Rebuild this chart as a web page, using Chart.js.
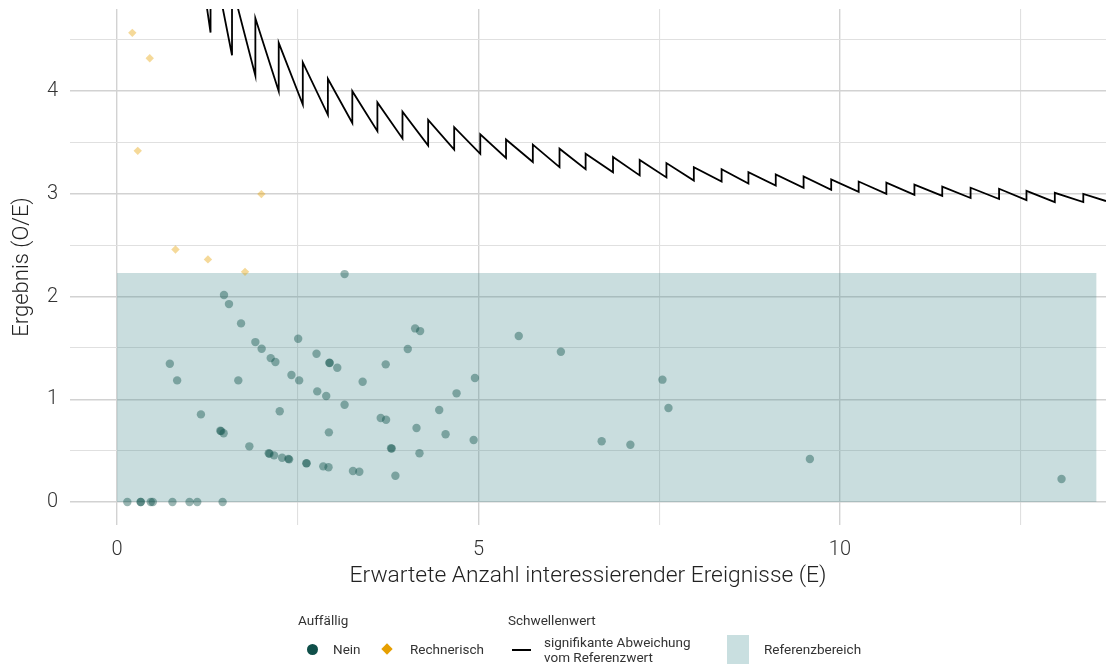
<!DOCTYPE html>
<html lang="de">
<head>
<meta charset="utf-8">
<title>Ergebnis (O/E)</title>
<script src="https://cdn.jsdelivr.net/npm/chart.js@4.4.1/dist/chart.umd.min.js"></script>
<style>
  html, body { margin: 0; padding: 0; background: #fff; }
  #wrap { position: relative; width: 1106px; height: 666px; overflow: hidden; }
  #chart { position: absolute; left: 0; top: 0; }
  .lg { position: absolute; font-family: Roboto, "DejaVu Sans", sans-serif; font-size: 13.5px; color: #333; line-height: 15px; white-space: nowrap; }
  .dot { position: absolute; width: 11px; height: 11px; border-radius: 50%; background: #0f4f49; }
  .dia { position: absolute; width: 8px; height: 8px; background: #e69f00; transform: rotate(45deg); }
  .ln { position: absolute; width: 19px; height: 2px; background: #000; }
  .box { position: absolute; width: 22px; height: 29px; background: #c9dfe0; }
</style>
</head>
<body>
<div id="wrap">
  <canvas id="chart" width="1106" height="666"></canvas>

  <div class="lg" style="left:298px; top:613px;">Auffällig</div>
  <div class="dot" style="left:307px; top:644px;"></div>
  <div class="lg" style="left:333px; top:642px;">Nein</div>
  <div class="dia" style="left:383px; top:645px;"></div>
  <div class="lg" style="left:410px; top:642px;">Rechnerisch</div>

  <div class="lg" style="left:508px; top:613px;">Schwellenwert</div>
  <div class="ln" style="left:512px; top:649px;"></div>
  <div class="lg" style="left:544px; top:635px;">signifikante Abweichung<br>vom Referenzwert</div>

  <div class="box" style="left:727px; top:635px;"></div>
  <div class="lg" style="left:764px; top:642px;">Referenzbereich</div>
</div>
<script>
// Achsen
const xTicks = [0, 2.5, 5, 7.5, 10, 12.5];
const yTicks = [0, 0.5, 1, 1.5, 2, 2.5, 3, 3.5, 4, 4.5];

// Referenzbereich
const refLow = 0;
const refHigh = 2.23;
const refEnd = 13.55;

// Schwellenwert: Sprungstellen mit Wert vor und nach dem Sprung
const jumpE = [1.294, 1.591, 1.914, 2.237, 2.570, 2.917, 3.255, 3.602, 3.949, 4.304,
               4.664, 5.025, 5.381, 5.752, 6.121, 6.482, 6.861, 7.230, 7.600, 7.979,
               8.363, 8.734, 9.112, 9.497, 9.879, 10.259, 10.642, 11.030, 11.415, 11.807,
               12.201, 12.580, 12.972, 13.366];
const jumpLow = [4.57, 4.35, 4.15, 4.00, 3.87, 3.77, 3.69, 3.61, 3.54, 3.47,
                 3.43, 3.39, 3.35, 3.31, 3.26, 3.24, 3.21, 3.18, 3.16, 3.13,
                 3.12, 3.10, 3.08, 3.06, 3.04, 3.02, 3.00, 2.99, 2.98, 2.96,
                 2.95, 2.94, 2.92, 2.92];
const jumpHigh = [5.41, 5.03, 4.71, 4.47, 4.28, 4.12, 4.00, 3.89, 3.80, 3.72,
                  3.65, 3.58, 3.53, 3.48, 3.44, 3.39, 3.36, 3.33, 3.30, 3.26,
                  3.24, 3.21, 3.19, 3.17, 3.14, 3.12, 3.11, 3.09, 3.07, 3.06,
                  3.05, 3.03, 3.01, 3.00];
const lineStart = { x: 1.0, y: 6.0 };
const lineEnd = { x: 13.68, y: 2.93 };

// Einrichtungen, Auffällig: Nein
const neinE = [1.480, 1.549, 1.716, 1.914, 2.001, 2.126, 2.191, 2.506, 2.760, 2.940,
               2.940, 3.047, 2.413, 2.520, 2.770, 2.894, 3.148, 3.398, 3.717, 4.022,
               4.124, 4.193, 4.697, 4.951, 4.457, 4.545, 4.933, 3.648, 3.722, 4.143,
               2.931, 4.184, 3.791, 3.800, 3.851, 0.731, 0.832, 1.678, 1.161, 2.251,
               1.429, 1.440, 1.475, 1.831, 2.099, 2.110, 2.173, 2.284, 2.381, 2.370,
               2.621, 2.621, 2.853, 2.926, 3.264, 3.352, 5.557, 6.140, 7.545, 7.628,
               6.704, 7.101, 9.584, 13.065, 3.148,
               0.143, 0.328, 0.328, 0.467, 0.495, 0.767, 1.003, 1.110, 1.461];
const neinOE = [2.015, 1.927, 1.739, 1.557, 1.492, 1.401, 1.363, 1.590, 1.443, 1.353,
                1.356, 1.307, 1.236, 1.184, 1.077, 1.032, 0.947, 1.171, 1.340, 1.489,
                1.690, 1.664, 1.058, 1.207, 0.895, 0.659, 0.603, 0.818, 0.801, 0.720,
                0.678, 0.474, 0.523, 0.520, 0.256, 1.346, 1.184, 1.184, 0.853, 0.883,
                0.694, 0.690, 0.669, 0.542, 0.474, 0.470, 0.454, 0.431, 0.415, 0.420,
                0.376, 0.378, 0.347, 0.338, 0.302, 0.295, 1.616, 1.463, 1.191, 0.915,
                0.591, 0.558, 0.418, 0.224, 2.219,
                0, 0, 0, 0, 0, 0, 0, 0, 0];

// Einrichtungen, Auffällig: Rechnerisch
const rechnE = [0.212, 0.453, 0.287, 1.997, 0.809, 1.258, 1.771];
const rechnOE = [4.568, 4.321, 3.419, 2.998, 2.459, 2.362, 2.241];

const FONT = 'Roboto, "DejaVu Sans", sans-serif';

function toPoints(xs, ys) {
    return xs.map((x, i) => ({ x: x, y: ys[i] }));
}

function thresholdPoints() {
    const pts = [lineStart];
    jumpE.forEach((e, i) => {
        pts.push({ x: e, y: jumpLow[i] });
        pts.push({ x: e, y: jumpHigh[i] });
    });
    pts.push(lineEnd);
    return pts;
}

// keine Randabstände durch Beschriftungen, Plotfläche bleibt fest
function noLabelPadding(scale) {
    scale.paddingTop = 0;
    scale.paddingBottom = 0;
    scale.paddingLeft = 0;
    scale.paddingRight = 0;
}

const majorGrid = '#d2d2d2';
const minorGrid = '#e0e0e0';

new Chart(document.getElementById('chart'), {
    type: 'scatter',
    data: {
        datasets: [
            {
                label: 'Nein',
                data: toPoints(neinE, neinOE),
                pointStyle: 'circle',
                pointRadius: 4.2,
                pointBackgroundColor: 'rgba(15, 80, 73, 0.42)',
                pointBorderWidth: 0,
                order: 1
            },
            {
                label: 'Rechnerisch',
                data: toPoints(rechnE, rechnOE),
                pointStyle: 'rectRot',
                pointRadius: 4.2,
                pointBackgroundColor: 'rgba(230, 159, 0, 0.4)',
                pointBorderWidth: 0,
                order: 2
            },
            {
                type: 'line',
                label: 'signifikante Abweichung vom Referenzwert',
                data: thresholdPoints(),
                borderColor: '#000',
                borderWidth: 1.8,
                pointRadius: 0,
                fill: false,
                tension: 0,
                order: 3
            },
            {
                type: 'line',
                label: 'Referenzbereich',
                data: [{ x: 0, y: refHigh }, { x: refEnd, y: refHigh }],
                borderWidth: 0,
                borderColor: 'rgba(0,0,0,0)',
                backgroundColor: 'rgba(70, 138, 143, 0.29)',
                pointRadius: 0,
                fill: { value: refLow },
                order: 4
            }
        ]
    },
    options: {
        responsive: false,
        animation: false,
        layout: { autoPadding: false, padding: { top: 9, right: 0, bottom: 72, left: 0 } },
        plugins: {
            legend: { display: false },
            tooltip: { enabled: false }
        },
        scales: {
            x: {
                type: 'linear',
                min: -0.65,
                max: 13.68,
                afterBuildTicks: (scale) => { scale.ticks = xTicks.map(v => ({ value: v })); },
                afterFit: (scale) => { scale.height = 69; noLabelPadding(scale); },
                border: { display: false },
                grid: {
                    drawTicks: false,
                    color: (ctx) => (ctx.tick && ctx.tick.value % 5 === 0 ? majorGrid : minorGrid),
                    lineWidth: (ctx) => (ctx.tick && ctx.tick.value % 5 === 0 ? 1.4 : 1.1)
                },
                ticks: {
                    autoSkip: false,
                    maxRotation: 0,
                    padding: 13,
                    color: '#333',
                    font: { family: FONT, size: 20, weight: 300 },
                    callback: (v) => (v % 5 === 0 ? String(v) : '')
                },
                title: {
                    display: true,
                    text: 'Erwartete Anzahl interessierender Ereignisse (E)',
                    color: '#222',
                    padding: { top: 0, bottom: 4 },
                    font: { family: FONT, size: 22.8, weight: 300 }
                }
            },
            y: {
                type: 'linear',
                min: -0.224,
                max: 4.8,
                afterBuildTicks: (scale) => { scale.ticks = yTicks.map(v => ({ value: v })); },
                afterFit: (scale) => { scale.width = 70; noLabelPadding(scale); },
                border: { display: false },
                grid: {
                    drawTicks: false,
                    color: (ctx) => (ctx.tick && ctx.tick.value % 1 === 0 ? majorGrid : minorGrid),
                    lineWidth: (ctx) => (ctx.tick && ctx.tick.value % 1 === 0 ? 1.4 : 1.1)
                },
                ticks: {
                    autoSkip: false,
                    padding: 12,
                    color: '#333',
                    font: { family: FONT, size: 20, weight: 300 },
                    callback: (v) => (v % 1 === 0 ? String(v) : '')
                },
                title: {
                    display: true,
                    text: 'Ergebnis (O/E)',
                    color: '#222',
                    padding: { top: 9, bottom: 0 },
                    font: { family: FONT, size: 22, weight: 300 }
                }
            }
        }
    }
});
</script>
</body>
</html>
